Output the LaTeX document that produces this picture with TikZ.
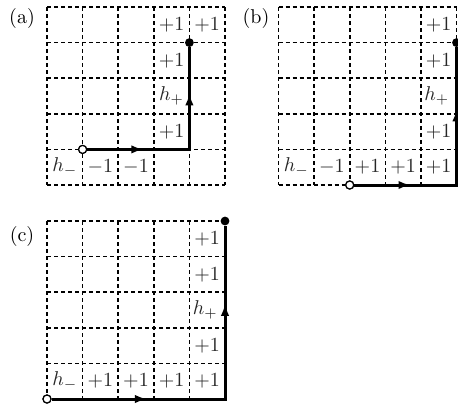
\documentclass[tikz,border=0pt]{standalone}
\usetikzlibrary{arrows.meta,decorations.markings}
\begin{document}
\begin{tikzpicture}[x=0.5pt,y=-0.5pt,
  gridline/.style={line width=0.8pt, dash pattern=on 2pt off 1.5pt},
  cell/.style={inner sep=0pt, text=black!85, font=\normalsize},
  tag/.style={inner sep=0pt, font=\normalsize},
  walk/.style={line width=1.5pt, line join=miter},
  tipmark/.style={line width=1.5pt, postaction={decorate},
    decoration={markings, mark=at position 0.55 with {\arrow{Latex[length=6pt,width=4.2pt]}}}},
  opendot/.style={circle, draw, fill=white, line width=0.6pt, minimum size=4pt, inner sep=0pt},
  fulldot/.style={circle, fill=black, minimum size=4.4pt, inner sep=0pt}]
\useasboundingbox (0,0) rectangle (458,403);

% ---------- panel (a) ----------
\node[tag] (la) at (22,18) {(a)};
\begin{scope}[shift={(47,7)}]
  \foreach \k in {0,35.6,71.2,106.8,142.4,178}{
    \draw[gridline] (\k,0) -- (\k,178);
    \draw[gridline] (0,\k) -- (178,\k);
  }
  \node[cell] (a-3-0) at (124.6,17.8) {$+1$};
  \node[cell] (a-4-0) at (160.2,17.8) {$+1$};
  \node[cell] (a-3-1) at (124.6,53.4) {$+1$};
  \node[cell] (a-3-2) at (124.6,89) {$h_+$};
  \node[cell] (a-3-3) at (124.6,124.6) {$+1$};
  \node[cell] (a-0-4) at (17.8,160.2) {$h_-$};
  \node[cell] (a-1-4) at (53.4,160.2) {$-1$};
  \node[cell] (a-2-4) at (89,160.2) {$-1$};
  \coordinate (ak) at (142.4,142.4);
  \node[opendot] (as) at (35.6,142.4) {};
  \node[fulldot] (ae) at (142.4,35.6) {};
  \draw[walk] (as) -- (ak) -- (ae);
  \draw[tipmark] (as) -- (ak);
  \draw[tipmark] (ak) -- (ae);
  \node[opendot] at (as) {};
\end{scope}

% ---------- panel (b) ----------
\node[tag] (lb) at (256,18) {(b)};
\begin{scope}[shift={(278.5,7)}]
  \foreach \k in {0,35.6,71.2,106.8,142.4,178}{
    \draw[gridline] (\k,0) -- (\k,178);
    \draw[gridline] (0,\k) -- (178,\k);
  }
  \node[cell] (b-4-0) at (160.2,17.8) {$+1$};
  \node[cell] (b-4-1) at (160.2,53.4) {$+1$};
  \node[cell] (b-4-2) at (158.2,89) {$h_+$};
  \node[cell] (b-4-3) at (160.2,124.6) {$+1$};
  \node[cell] (b-0-4) at (17.8,160.2) {$h_-$};
  \node[cell] (b-1-4) at (53.4,160.2) {$-1$};
  \node[cell] (b-2-4) at (89,160.2) {$+1$};
  \node[cell] (b-3-4) at (124.6,160.2) {$+1$};
  \node[cell] (b-4-4) at (160.2,160.2) {$+1$};
  \coordinate (bk) at (178,178);
  \node[opendot] (bs) at (71.2,178) {};
  \node[fulldot] (be) at (178,35.6) {};
  \draw[walk] (bs) -- (bk) -- (be);
  \draw[tipmark] (bs) -- (bk);
  \draw[tipmark] (bk) -- (be);
  \node[opendot] at (bs) {};
\end{scope}

% ---------- panel (c) ----------
\node[tag] (lc) at (22,236) {(c)};
\begin{scope}[shift={(47,221)}]
  \foreach \k in {0,35.6,71.2,106.8,142.4,178}{
    \draw[gridline] (\k,0) -- (\k,178);
    \draw[gridline] (0,\k) -- (178,\k);
  }
  \node[cell] (c-4-0) at (160.2,17.8) {$+1$};
  \node[cell] (c-4-1) at (160.2,53.4) {$+1$};
  \node[cell] (c-4-2) at (158.2,89) {$h_+$};
  \node[cell] (c-4-3) at (160.2,124.6) {$+1$};
  \node[cell] (c-0-4) at (17.8,160.2) {$h_-$};
  \node[cell] (c-1-4) at (53.4,160.2) {$+1$};
  \node[cell] (c-2-4) at (89,160.2) {$+1$};
  \node[cell] (c-3-4) at (124.6,160.2) {$+1$};
  \node[cell] (c-4-4) at (160.2,160.2) {$+1$};
  \coordinate (ck) at (178,178);
  \node[opendot] (cs) at (0,178) {};
  \node[fulldot] (ce) at (178,0) {};
  \draw[walk] (cs) -- (ck) -- (ce);
  \draw[tipmark] (cs) -- (ck);
  \draw[tipmark] (ck) -- (ce);
  \node[opendot] at (cs) {};
\end{scope}
\end{tikzpicture}
\end{document}
